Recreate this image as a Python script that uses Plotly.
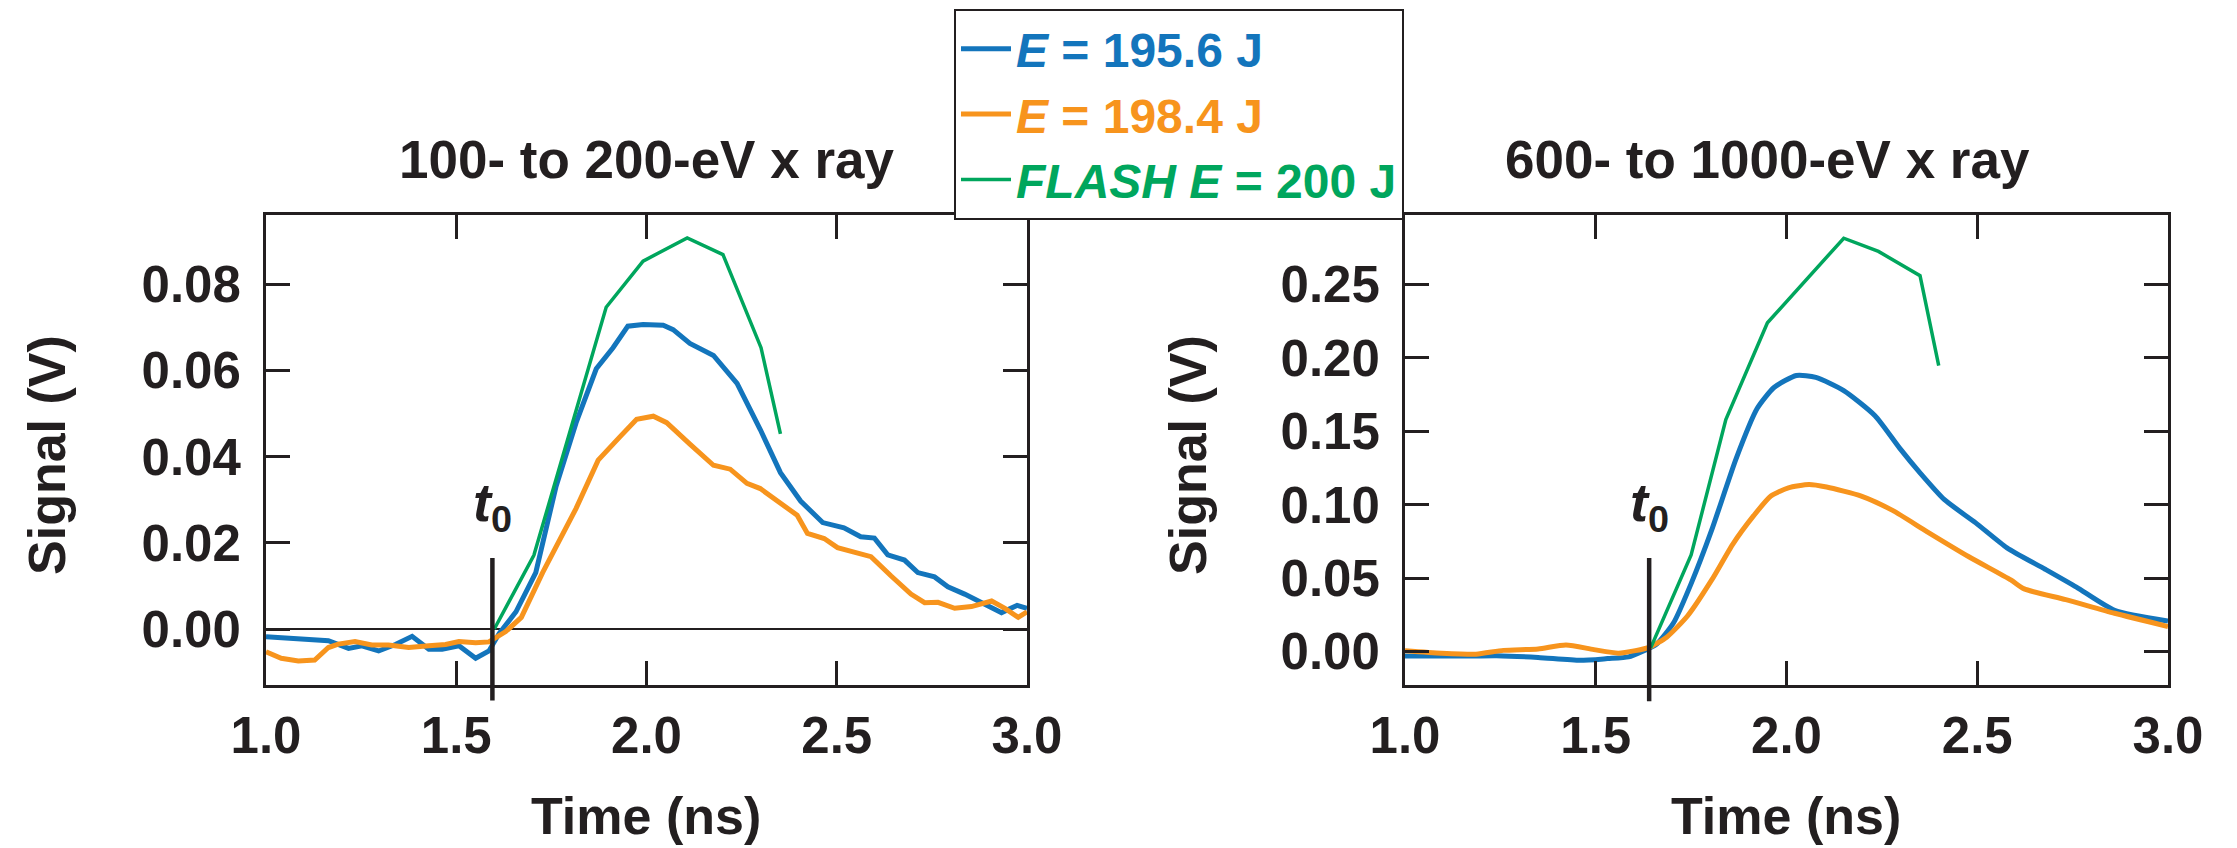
import plotly.graph_objects as go

# ---------------- data ----------------
# Left panel: 100- to 200-eV x ray
l_blue_t = [1.0, 1.128, 1.164, 1.217, 1.252, 1.296, 1.340, 1.384, 1.428, 1.463, 1.507, 1.551, 1.586, 1.613,
            1.657, 1.709, 1.762, 1.815, 1.868, 1.912, 1.951, 1.991, 2.044, 2.070, 2.114, 2.176, 2.238, 2.299,
            2.352, 2.405, 2.463, 2.519, 2.563, 2.599, 2.634, 2.678, 2.713, 2.757, 2.792, 2.836, 2.889, 2.933,
            2.974, 3.0]
l_blue_v = [-0.0018, -0.0024, -0.0027, -0.0045, -0.0039, -0.0051, -0.0036, -0.0017, -0.0047, -0.0047, -0.0039,
            -0.0068, -0.0051, -0.0010, 0.0040, 0.0131, 0.0330, 0.0479, 0.0604, 0.0653, 0.0703, 0.0707, 0.0705,
            0.0695, 0.0663, 0.0635, 0.0570, 0.0463, 0.0363, 0.0297, 0.0247, 0.0235, 0.0214, 0.0211, 0.0172,
            0.0160, 0.0131, 0.0121, 0.0098, 0.0081, 0.0056, 0.0038, 0.0055, 0.0048]
l_orange_t = [1.0, 1.040, 1.085, 1.128, 1.164, 1.190, 1.234, 1.278, 1.322, 1.375, 1.428, 1.472, 1.507, 1.551,
              1.586, 1.630, 1.671, 1.727, 1.815, 1.873, 1.930, 1.974, 2.018, 2.053, 2.114, 2.176, 2.220, 2.264,
              2.299, 2.361, 2.396, 2.423, 2.467, 2.502, 2.555, 2.590, 2.643, 2.695, 2.731, 2.766, 2.810, 2.854,
              2.907, 2.942, 2.977, 3.0]
l_orange_v = [-0.0053, -0.0068, -0.0074, -0.0072, -0.0043, -0.0035, -0.0029, -0.0037, -0.0037, -0.0043, -0.0039,
              -0.0036, -0.0029, -0.0032, -0.0030, -0.0006, 0.0027, 0.0131, 0.0280, 0.0392, 0.0446, 0.0487, 0.0494,
              0.0479, 0.0429, 0.0380, 0.0371, 0.0338, 0.0326, 0.0288, 0.0264, 0.0222, 0.0210, 0.0189, 0.0177,
              0.0168, 0.0123, 0.0081, 0.0061, 0.0062, 0.0048, 0.0052, 0.0065, 0.0048, 0.0027, 0.0040]
l_green_t = [1.600, 1.704, 1.894, 1.991, 2.107, 2.201, 2.301, 2.352]
l_green_v = [0.0, 0.0171, 0.0747, 0.0854, 0.0908, 0.0869, 0.0653, 0.0453]

# Right panel: 600- to 1000-eV x ray
r_blue_t = [1.0, 1.149, 1.240, 1.349, 1.459, 1.531, 1.586, 1.622, 1.659, 1.704, 1.750, 1.804, 1.868, 1.923,
            1.968, 2.026, 2.077, 2.150, 2.232, 2.296, 2.350, 2.414, 2.496, 2.578, 2.678, 2.760, 2.860, 3.0]
r_blue_v = [-0.0032, -0.0032, -0.0029, -0.0041, -0.0061, -0.0049, -0.0037, 0.0, 0.0049, 0.0195, 0.0462, 0.0828,
            0.1314, 0.1655, 0.180, 0.188, 0.1867, 0.1777, 0.1606, 0.1387, 0.1217, 0.1034, 0.0876, 0.0706, 0.056,
            0.0438, 0.028, 0.0207]
r_orange_t = [1.0, 1.095, 1.186, 1.258, 1.349, 1.422, 1.495, 1.559, 1.604, 1.641, 1.686, 1.741, 1.804, 1.859,
              1.914, 1.959, 2.005, 2.059, 2.105, 2.196, 2.278, 2.369, 2.478, 2.588, 2.623, 2.732, 2.860, 3.0]
r_orange_v = [0.0005, -0.0012, -0.0019, 0.0007, 0.0017, 0.0044, 0.0012, -0.0012, 0.0005, 0.0029, 0.0097, 0.0243,
              0.0487, 0.073, 0.0925, 0.1059, 0.1115, 0.1137, 0.112, 0.1059, 0.0961, 0.0815, 0.0645, 0.0487, 0.0426,
              0.0353, 0.026, 0.017]
r_green_t = [1.644, 1.750, 1.841, 1.950, 2.150, 2.241, 2.350, 2.399]
r_green_v = [0.0024, 0.0657, 0.158, 0.224, 0.2816, 0.2726, 0.2561, 0.1947]

# t0 markers: time, top of the marker line, bottom of the marker line
t0_left = (1.595, 0.0165, -0.0166)
t0_right = (1.640, 0.0637, -0.034)

panel_titles = ["100- to 200-eV x ray", "600- to 1000-eV x ray"]
series_names = ["<i>E</i> = 195.6 J", "<i>E</i> = 198.4 J", "<i>FLASH E</i> = 200 J"]

# ---------------- style ----------------
BLUE = "#1375bc"
ORANGE = "#f7941d"
GREEN = "#00a65d"
INK = "#231f20"
FONT = "Liberation Sans"
W, H = 2237, 848

x_range = [1.0, 3.0]
yl_range = [-0.013, 0.0962]
yr_range = [-0.0229, 0.2977]

fig = go.Figure()


def add_panel(xa, ya, blue, orange, green, show, shape):
    for (t, v), col, name, width, shp in zip(
        [blue, orange, green], [BLUE, ORANGE, GREEN], series_names, [5, 5, 3.5], [shape, shape, "linear"]
    ):
        fig.add_trace(go.Scatter(
            x=t, y=v, mode="lines", xaxis=xa, yaxis=ya,
            line=dict(color=col, width=width, shape=shp, smoothing=0.6),
            name=f"<b><span style='color:{col}'>{name}</span></b>",
            showlegend=show,
        ))


add_panel("x", "y", (l_blue_t, l_blue_v), (l_orange_t, l_orange_v), (l_green_t, l_green_v), True, "linear")
add_panel("x2", "y2", (r_blue_t, r_blue_v), (r_orange_t, r_orange_v), (r_green_t, r_green_v), False, "spline")

tickfont = dict(family=FONT, size=51, color=INK, weight="bold")
common_axis = dict(
    showline=True, linecolor=INK, linewidth=3, mirror="ticks",
    ticks="inside", ticklen=24, tickwidth=3, tickcolor=INK,
    showgrid=False, tickfont=tickfont, automargin=False,
)

ydom = [(848 - 685) / H, (848 - 214.6) / H]
xdom_l = [266 / W, 1027 / W]
xdom_r = [1405 / W, 2168 / W]

fig.update_layout(
    template="none",
    width=W, height=H,
    margin=dict(l=0, r=0, t=0, b=0, pad=0, autoexpand=False),
    paper_bgcolor="white", plot_bgcolor="white",
    xaxis=dict(domain=xdom_l, range=x_range, dtick=0.5, tickformat=".1f", anchor="y",
               zeroline=False, ticklabelstandoff=4, **common_axis),
    yaxis=dict(domain=ydom, range=yl_range, dtick=0.02, tickformat=".2f", anchor="x",
               zeroline=True, zerolinecolor=INK, zerolinewidth=2, ticklabelstandoff=12, **common_axis),
    xaxis2=dict(domain=xdom_r, range=x_range, dtick=0.5, tickformat=".1f", anchor="y2",
                zeroline=False, ticklabelstandoff=4, **common_axis),
    yaxis2=dict(domain=ydom, range=yr_range, dtick=0.05, tickformat=".2f", anchor="x2",
                zeroline=False, ticklabelstandoff=12, **common_axis),
    legend=dict(
        x=954 / W, y=1 - 9 / H, xanchor="left", yanchor="top",
        bgcolor="white", bordercolor=INK, borderwidth=2,
        font=dict(family=FONT, size=48, color=INK),
        itemwidth=50, tracegroupgap=0,
    ),
    showlegend=True,
)


def domain_frac(v, rng):
    return (v - rng[0]) / (rng[1] - rng[0])


# t0 lines (clipped horizontally only so they reach below the frame)
for (t0, top, bot), xa, ya, rng in [(t0_left, "x", "y", yl_range), (t0_right, "x2", "y2", yr_range)]:
    fig.add_shape(type="line", xref=xa, yref=f"{ya} domain",
                  x0=t0, x1=t0, y0=domain_frac(bot, rng), y1=domain_frac(top, rng),
                  line=dict(color=INK, width=4.5), layer="above")
    fig.add_annotation(x=t0, xref=xa, y=domain_frac(top, rng), yref=f"{ya} domain",
                       text="<b><i>t</i><sub>0</sub></b>", showarrow=False,
                       yanchor="bottom", yshift=16,
                       font=dict(family=FONT, size=54, color=INK))

title_font = dict(family=FONT, size=53, color=INK)
axis_font = dict(family=FONT, size=52, color=INK)
# panel titles
fig.add_annotation(x=646 / W, y=(H - 160) / H, xref="paper", yref="paper", text=f"<b>{panel_titles[0]}</b>",
                   showarrow=False, font=title_font, xanchor="center", yanchor="middle")
fig.add_annotation(x=1767 / W, y=(H - 160) / H, xref="paper", yref="paper", text=f"<b>{panel_titles[1]}</b>",
                   showarrow=False, font=title_font, xanchor="center", yanchor="middle")
# axis titles
for xc in [646, 1786]:
    fig.add_annotation(x=xc / W, y=(H - 816) / H, xref="paper", yref="paper", text="<b>Time (ns)</b>",
                       showarrow=False, font=axis_font, xanchor="center", yanchor="middle")
for xc in [47, 1188]:
    fig.add_annotation(x=xc / W, y=(H - 455) / H, xref="paper", yref="paper", text="<b>Signal (V)</b>",
                       showarrow=False, font=axis_font, textangle=-90, xanchor="center", yanchor="middle")

fig.write_html("out.html")
